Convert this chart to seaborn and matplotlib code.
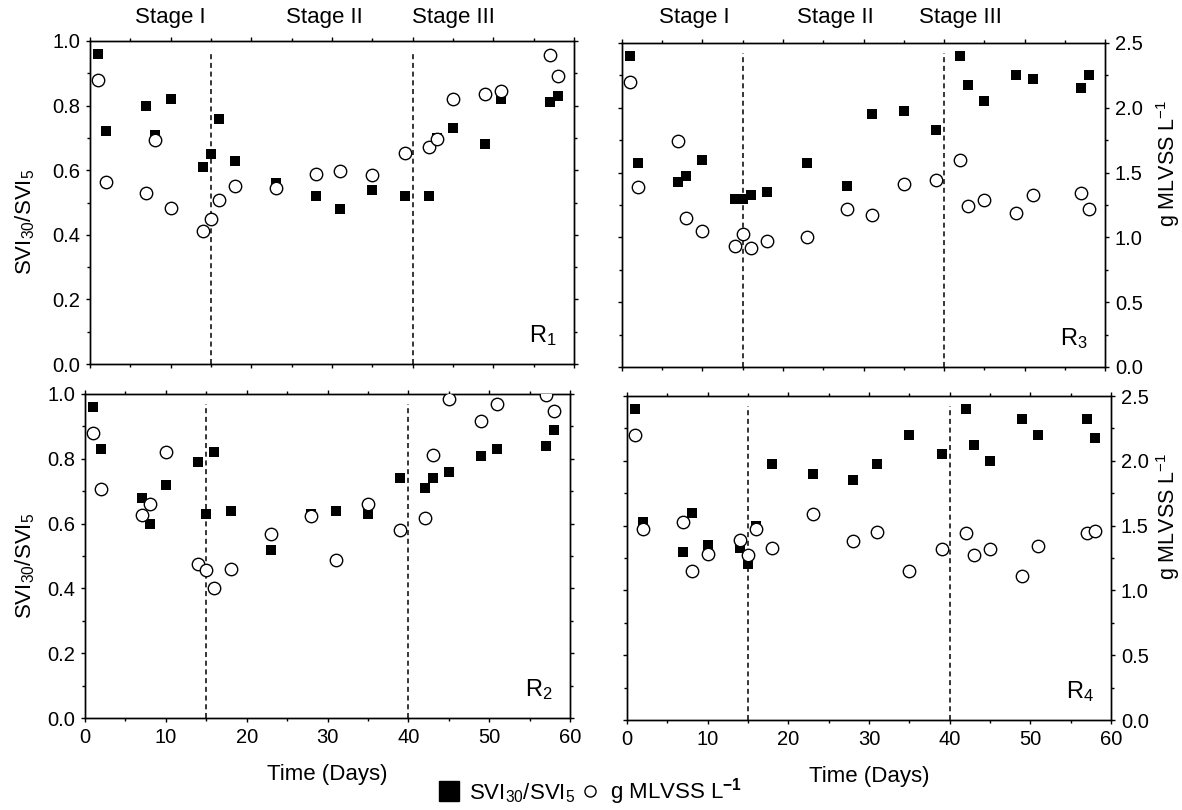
import matplotlib
matplotlib.use("Agg")
import matplotlib.pyplot as plt
import matplotlib.transforms as mtransforms
from matplotlib.lines import Line2D
from matplotlib.ticker import MultipleLocator
import seaborn as sns

# sampling days (same for every reactor)
days = [1, 2, 7, 8, 10, 14, 15, 16, 18, 23, 28, 31, 35, 39, 42, 43, 45, 49, 51, 57, 58]

# SVI30/SVI5 ratio (left axis) and g MLVSS/L (right axis)
r1_svi = [0.96, 0.72, 0.80, 0.71, 0.82, 0.61, 0.65, 0.76, 0.63, 0.56, 0.52, 0.48, 0.54, 0.52, 0.52, 0.70, 0.73, 0.68, 0.82, 0.81, 0.83]
r1_mlvss = [2.20, 1.41, 1.32, 1.73, 1.21, 1.03, 1.12, 1.27, 1.38, 1.36, 1.47, 1.49, 1.46, 1.63, 1.68, 1.74, 2.05, 2.09, 2.11, 2.39, 2.23]

r2_svi = [0.96, 0.83, 0.68, 0.60, 0.72, 0.79, 0.63, 0.82, 0.64, 0.52, 0.63, 0.64, 0.63, 0.74, 0.71, 0.74, 0.76, 0.81, 0.83, 0.84, 0.89]
r2_mlvss = [2.20, 1.77, 1.57, 1.65, 2.05, 1.19, 1.14, 1.00, 1.15, 1.42, 1.56, 1.22, 1.65, 1.45, 1.54, 2.03, 2.46, 2.29, 2.42, 2.49, 2.37]

r3_svi = [0.96, 0.63, 0.57, 0.59, 0.64, 0.52, 0.52, 0.53, 0.54, 0.63, 0.56, 0.78, 0.79, 0.73, 0.96, 0.87, 0.82, 0.90, 0.89, 0.86, 0.90]
r3_mlvss = [2.20, 1.39, 1.74, 1.15, 1.05, 0.93, 1.03, 0.92, 0.97, 1.00, 1.22, 1.17, 1.41, 1.44, 1.60, 1.24, 1.29, 1.19, 1.33, 1.34, 1.22]

r4_svi = [0.96, 0.61, 0.52, 0.64, 0.54, 0.53, 0.48, 0.60, 0.79, 0.76, 0.74, 0.79, 0.88, 0.82, 0.96, 0.85, 0.80, 0.93, 0.88, 0.93, 0.87]
r4_mlvss = [2.20, 1.47, 1.53, 1.15, 1.28, 1.39, 1.27, 1.47, 1.33, 1.59, 1.38, 1.45, 1.15, 1.32, 1.44, 1.27, 1.32, 1.11, 1.34, 1.44, 1.46]

stage_days = [15, 40]
stage_labels = ["Stage I", "Stage II", "Stage III"]

sns.set_style("ticks", {"axes.edgecolor": "black", "xtick.color": "black",
                        "ytick.color": "black", "text.color": "black",
                        "axes.labelcolor": "black"})
plt.rcParams['font.family'] = ['Liberation Sans', 'DejaVu Sans']
plt.rcParams['mathtext.fontset'] = 'custom'
plt.rcParams['mathtext.rm'] = 'Liberation Sans'
plt.rcParams['mathtext.it'] = 'Liberation Sans:italic'
plt.rcParams['mathtext.bf'] = 'Liberation Sans:bold'

fig = plt.figure(figsize=(11.82, 8.10), dpi=100)

W, H = 1182, 810
paineis = [
    # name, svi, mlvss, (left, top, right, bottom) px, col, row, stage x positions
    ("1", r1_svi, r1_mlvss, (90, 41, 574, 364), 0, 0, [10, 29, 45]),
    ("3", r3_svi, r3_mlvss, (622, 43, 1105, 367), 1, 0, [9, 26.5, 42]),
    ("2", r2_svi, r2_mlvss, (85, 394, 570, 718), 0, 1, None),
    ("4", r4_svi, r4_mlvss, (627, 396, 1111, 720), 1, 1, None),
]

FS_TICK = 14.5
FS_LABEL = 16

for nome, svi, mlvss, (l, t, r, b), col, row, stage_x in paineis:
    ax = fig.add_axes([l / W, 1 - b / H, (r - l) / W, (b - t) / H])
    ax2 = ax.twinx()

    sns.scatterplot(x=days, y=svi, ax=ax, marker='s', color='black',
                    s=62, linewidth=0, zorder=3)
    sns.scatterplot(x=days, y=mlvss, ax=ax2, marker='o', color='white',
                    edgecolor='black', s=80, linewidth=1.0, zorder=4)

    for d in stage_days:
        ax.axvline(d, ymax=0.97, color='black', lw=1.1, ls=(0, (3.3, 2.4)), zorder=1)

    ax.set_xlim(0, 60)
    ax.set_ylim(0, 1.0)
    ax2.set_ylim(0, 2.5)

    ax.xaxis.set_major_locator(MultipleLocator(10))
    ax.xaxis.set_minor_locator(MultipleLocator(5))
    ax.yaxis.set_major_locator(MultipleLocator(0.2))
    ax.yaxis.set_minor_locator(MultipleLocator(0.1))
    ax2.yaxis.set_major_locator(MultipleLocator(0.5))
    ax2.yaxis.set_minor_locator(MultipleLocator(0.25))
    ax.yaxis.set_major_formatter('{x:.1f}')
    ax2.yaxis.set_major_formatter('{x:.1f}')

    for a in (ax, ax2):
        for sp in a.spines.values():
            sp.set_visible(True)
            sp.set_linewidth(1.0)
        a.tick_params(which='major', direction='out', length=3.2, width=1.0,
                      labelsize=FS_TICK, pad=4)
        a.tick_params(which='minor', direction='out', length=1.9, width=1.0)
    ax.tick_params(which='both', top=True, bottom=True, left=True)
    ax.tick_params(labelbottom=(row == 1), labelleft=(col == 0))
    ax2.tick_params(which='both', right=True, labelright=(col == 1))
    ax.set_xlabel("")
    ax.set_ylabel("")
    ax2.set_ylabel("")

    if row == 1:
        ax.set_xlabel("Time (Days)", fontsize=FS_LABEL, labelpad=12)
    if col == 0:
        # right edge of the rotated label sits about 37 px from the figure edge
        ax.set_ylabel(r"SVI$_{30}$/SVI$_5$", fontsize=FS_LABEL)
        ax.yaxis.set_label_coords((37 - l) / (r - l), 0.44 if row == 0 else 0.47)
    else:
        ax2.set_ylabel(r"g MLVSS L$^{-1}$", fontsize=FS_LABEL - 0.5)
        ax2.yaxis.set_label_coords((1154 - l) / (r - l), 0.63)

    ax.text(0.965, 0.05, r"R$_%s$" % nome, transform=ax.transAxes,
            ha='right', va='bottom', fontsize=17)

    if stage_x is not None:
        trans = mtransforms.blended_transform_factory(ax.transData, fig.transFigure)
        for sx, lab in zip(stage_x, stage_labels):
            ax.text(sx, 1 - 18 / H, lab, transform=trans, ha='center',
                    va='center', fontsize=16)

handles = [
    Line2D([], [], marker='s', ls='none', color='black', markersize=14),
    Line2D([], [], marker='o', ls='none', markerfacecolor='white',
           markeredgecolor='black', markersize=8, markeredgewidth=1.0),
]
labels = [r"SVI$_{30}$/SVI$_5$", r"g MLVSS L$^{\mathbf{-1}}$"]
fig.legend(handles, labels, loc='center', bbox_to_anchor=(590 / W, 1 - 792 / H),
           ncol=2, frameon=False, fontsize=16, handlelength=1.0,
           handletextpad=0.4, columnspacing=0.2)

plt.savefig("out.png", dpi=100)
